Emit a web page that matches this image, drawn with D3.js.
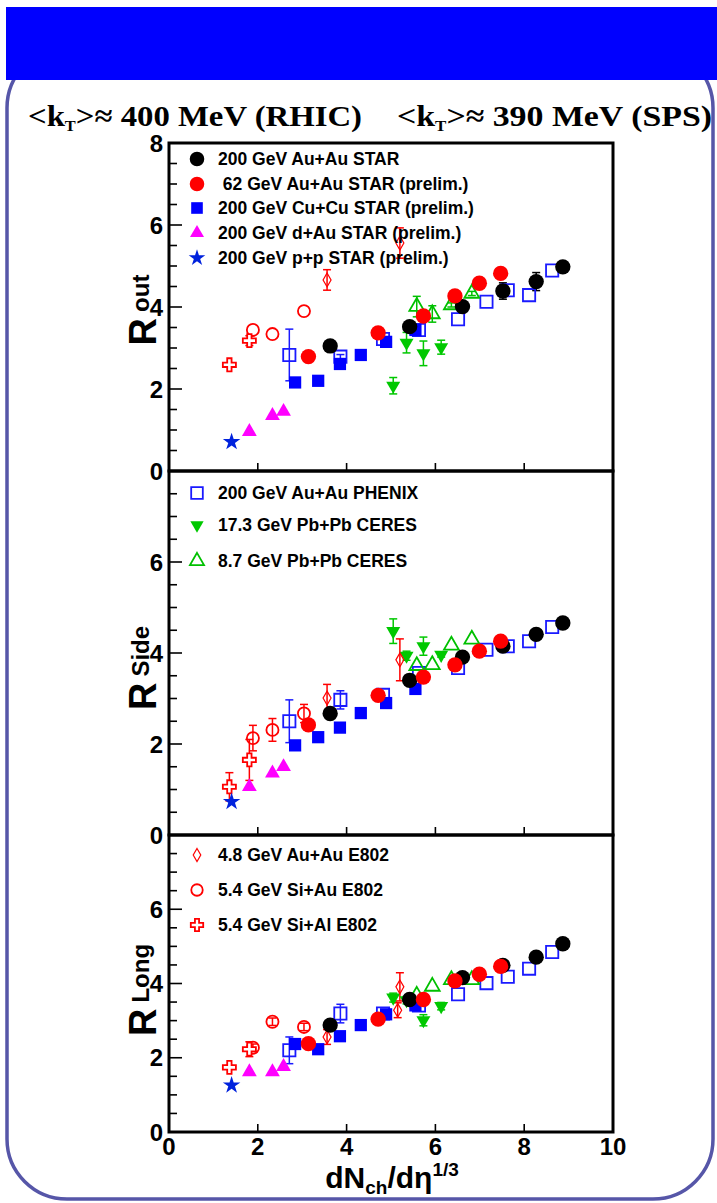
<!DOCTYPE html>
<meta charset="utf-8" />
<style>
  html,
  body {
    margin: 0;
    padding: 0;
    background: #fff;
  }
  #chart {
    width: 717px;
    height: 1203px;
  }
</style>
<script src="https://d3js.org/d3.v7.min.js"></script>

<div id="chart"></div>

<script>
  // ---- data ----
  // x is dNch/deta^(1/3), y values are radii in fm (out, side, long)
  const auStarX = [3.63, 5.42, 6.61, 7.52, 8.27, 8.87];
  const auStarOut = [3.05, 3.52, 4.01, 4.39, 4.62, 4.98];
  const auStarSide = [2.67, 3.4, 3.91, 4.15, 4.41, 4.66];
  const auStarLong = [2.88, 3.57, 4.16, 4.49, 4.71, 5.07];
  const auStarErrOut = [0.06, 0.06, 0.06, 0.2, 0.22, 0.06];

  const au62X = [3.14, 4.71, 5.73, 6.44, 6.99, 7.47];
  const au62Out = [2.79, 3.37, 3.78, 4.27, 4.58, 4.82];
  const au62Side = [2.42, 3.07, 3.47, 3.74, 4.04, 4.26];
  const au62Long = [2.38, 3.04, 3.57, 4.07, 4.25, 4.46];

  const cuX = [2.84, 3.36, 3.85, 4.32, 4.89, 5.55];
  const cuOut = [2.16, 2.2, 2.61, 2.83, 3.15, 3.44];
  const cuSide = [1.97, 2.15, 2.36, 2.68, 2.9, 3.21];
  const cuLong = [2.37, 2.23, 2.58, 2.88, 3.17, 3.41];

  const dauX = [1.81, 2.33, 2.58];
  const dauOut = [0.96, 1.35, 1.45];
  const dauSide = [1.06, 1.36, 1.5];
  const dauLong = [1.62, 1.62, 1.76];

  const ppX = [1.41];
  const ppOut = [0.71];
  const ppSide = [0.73];
  const ppLong = [1.26];

  const phenixX = [2.71, 3.86, 4.82, 5.63, 6.51, 7.15, 7.63, 8.11, 8.63];
  const phenixOut = [2.83, 2.79, 3.22, 3.44, 3.7, 4.13, 4.41, 4.29, 4.89];
  const phenixSide = [2.5, 2.97, 3.08, 3.56, 3.67, 4.07, 4.15, 4.26, 4.57];
  const phenixLong = [2.2, 3.19, 3.19, 3.41, 3.71, 4.01, 4.18, 4.4, 4.85];
  const phenixErrOut = [0.63, 0.05, 0, 0, 0, 0, 0, 0, 0];
  const phenixErrSide = [0.47, 0.2, 0, 0, 0, 0, 0, 0, 0];
  const phenixErrLong = [0.36, 0.25, 0, 0, 0, 0, 0, 0, 0];

  const ceres17X = [5.05, 5.35, 5.73, 6.13];
  const ceres17Out = [2.08, 3.13, 2.87, 3.02];
  const ceres17Side = [4.48, 3.94, 4.15, 3.96];
  const ceres17Long = [3.62, 3.55, 3.01, 3.39];
  const ceres17ErrOut = [0.2, 0.25, 0.3, 0.17];
  const ceres17ErrSide = [0.27, 0.1, 0.2, 0.05];
  const ceres17ErrLong = [0.12, 0.1, 0.15, 0.1];

  const ceres8X = [5.58, 5.93, 6.36, 6.82];
  const ceres8Out = [4.01, 3.83, 4.05, 4.33];
  const ceres8Side = [3.72, 3.74, 4.17, 4.3];
  const ceres8Long = [3.68, 3.92, 4.1, 4.1];
  const ceres8ErrOut = [0.25, 0.2, 0.05, 0.05];

  const e802AuX = [3.56, 5.15, 5.2];
  const e802AuOut = [4.66, null, 5.56];
  const e802AuSide = [3.01, null, 3.85];
  const e802AuLong = [2.56, 3.28, 3.91];
  const e802AuErrOut = [0.25, 0, 0.37];
  const e802AuErrSide = [0.3, 0, 0.46];
  const e802AuErrLong = [0.2, 0.2, 0.38];

  const siAuX = [1.89, 2.33, 3.04];
  const siAuOut = [3.44, 3.34, 3.9];
  const siAuSide = [2.13, 2.31, 2.67];
  const siAuLong = [2.27, 2.97, 2.83];
  const siAuErrSide = [0.28, 0.25, 0.2];
  const siAuErrLong = [0.1, 0.1, 0.1];

  const siAlX = [1.36, 1.81];
  const siAlOut = [2.59, 3.18];
  const siAlSide = [1.06, 1.65];
  const siAlLong = [1.74, 2.23];
  const siAlErrOut = [0, 0.12];
  const siAlErrSide = [0.31, 0.45];
  const siAlErrLong = [0.05, 0.2];

  const yTicks = [0, 2, 4, 6, 8];
  const xTicks = [0, 2, 4, 6, 8, 10];

  // ---- series styles, in drawing order ----
  const series = [
    { key: 'phenix', label: '200 GeV Au+Au PHENIX', x: phenixX, y: [phenixOut, phenixSide, phenixLong], err: [phenixErrOut, phenixErrSide, phenixErrLong], sym: 'square', size: 150, color: '#1a1aff', open: true },
    { key: 'ceres8', label: '8.7 GeV Pb+Pb CERES', x: ceres8X, y: [ceres8Out, ceres8Side, ceres8Long], err: [ceres8ErrOut, null, null], sym: 'triangle', size: 95, color: '#00c000', open: true },
    { key: 'ceres17', label: '17.3 GeV Pb+Pb CERES', x: ceres17X, y: [ceres17Out, ceres17Side, ceres17Long], err: [ceres17ErrOut, ceres17ErrSide, ceres17ErrLong], sym: 'triangle', size: 85, color: '#00c800', down: true },
    { key: 'e802au', label: '4.8 GeV Au+Au E802', x: e802AuX, y: [e802AuOut, e802AuSide, e802AuLong], err: [e802AuErrOut, e802AuErrSide, e802AuErrLong], sym: 'diamond', size: 55, color: '#ff0000', open: true, thin: true },
    { key: 'siau', label: '5.4 GeV Si+Au E802', x: siAuX, y: [siAuOut, siAuSide, siAuLong], err: [null, siAuErrSide, siAuErrLong], sym: 'circle', size: 115, color: '#ff0000', open: true },
    { key: 'sial', label: '5.4 GeV Si+Al E802', x: siAlX, y: [siAlOut, siAlSide, siAlLong], err: [siAlErrOut, siAlErrSide, siAlErrLong], sym: 'cross', size: 95, color: '#ff0000', open: true },
    { key: 'cu', label: '200 GeV Cu+Cu STAR (prelim.)', x: cuX, y: [cuOut, cuSide, cuLong], sym: 'square', size: 150, color: '#0000ff' },
    { key: 'dau', label: '200 GeV d+Au STAR (prelim.)', x: dauX, y: [dauOut, dauSide, dauLong], sym: 'triangle', size: 95, color: '#ff00ff' },
    { key: 'pp', label: '200 GeV p+p STAR (prelim.)', x: ppX, y: [ppOut, ppSide, ppLong], sym: 'star', size: 95, color: '#0022dd' },
    { key: 'austar', label: '200 GeV Au+Au STAR', x: auStarX, y: [auStarOut, auStarSide, auStarLong], err: [auStarErrOut, null, null], sym: 'circle', size: 185, color: '#000000' },
    { key: 'au62', label: ' 62 GeV Au+Au STAR (prelim.)', x: au62X, y: [au62Out, au62Side, au62Long], sym: 'circle', size: 185, color: '#ff0000' },
  ];
  const byKey = {};
  series.forEach((s) => (byKey[s.key] = s));

  const legends = [
    ['austar', 'au62', 'cu', 'dau', 'pp'],
    ['phenix', 'ceres17', 'ceres8'],
    ['e802au', 'siau', 'sial'],
  ];

  // ---- layout ----
  const W = 717;
  const H = 1203;
  const plotLeft = 169;
  const plotRight = 613;
  const panels = [
    { top: 143, bottom: 471, title: 'out', legendY: [159, 184, 208, 233, 258], labelY: 310 },
    { top: 471, bottom: 835, title: 'Side', legendY: [493, 525, 561], labelY: 668 },
    { top: 835, bottom: 1132, title: 'Long', legendY: [855, 890, 925], labelY: 990 },
  ];

  const symbols = {
    circle: d3.symbolCircle,
    square: d3.symbolSquare,
    triangle: d3.symbolTriangle,
    star: d3.symbolStar,
    diamond: d3.symbolDiamond,
    cross: d3.symbolCross,
  };

  const svg = d3
    .select('#chart')
    .append('svg')
    .attr('width', W)
    .attr('height', H)
    .style('font-family', "'Liberation Sans', Arial, sans-serif");

  // rounded frame + blue header bar
  svg
    .append('rect')
    .attr('x', 7)
    .attr('y', 48)
    .attr('width', 706)
    .attr('height', 1151)
    .attr('rx', 60)
    .attr('fill', '#fff')
    .attr('stroke', '#5656a8')
    .attr('stroke-width', 3.5);

  svg
    .append('rect')
    .attr('x', 6)
    .attr('y', 7)
    .attr('width', 711)
    .attr('height', 73)
    .attr('fill', '#0000ff');

  // heading: two <kT> statements, stretched to the widths seen in the picture
  function kt(x, len, rest) {
    const t = svg
      .append('text')
      .attr('x', x)
      .attr('y', 126)
      .attr('textLength', len)
      .attr('lengthAdjust', 'spacingAndGlyphs')
      .style('font-family', "'Liberation Serif', 'Times New Roman', serif")
      .style('font-weight', 'bold')
      .style('font-size', '30px');
    t.append('tspan').text('<k');
    t.append('tspan').attr('dy', 5).style('font-size', '15px').text('T');
    t.append('tspan').attr('dy', -5).text('>\u2248 ' + rest);
  }
  kt(28, 334, '400 MeV (RHIC)');
  kt(397, 315, '390 MeV (SPS)');

  const x = d3.scaleLinear().domain([0, 10]).range([plotLeft, plotRight]);

  function drawMarker(g, s, px, py) {
    const path = d3.symbol(symbols[s.sym], s.size)();
    const m = g
      .append('path')
      .attr('d', path)
      .attr(
        'transform',
        `translate(${px},${py})` + (s.down ? ' rotate(180)' : ''),
      );
    if (s.open) {
      m.attr('fill', s.sym === 'cross' ? '#fff' : 'none')
        .attr('stroke', s.color)
        .attr('stroke-width', s.thin ? 1.2 : 1.8);
    } else {
      m.attr('fill', s.color);
    }
  }

  panels.forEach((p, pi) => {
    const y = d3.scaleLinear().domain([0, 8]).range([p.bottom, p.top]);
    const g = svg.append('g');

    // error bars
    series.forEach((s) => {
      const errs = s.err ? s.err[pi] : null;
      if (!errs) return;
      s.x.forEach((xv, i) => {
        const yv = s.y[pi][i];
        const e = errs[i];
        if (yv == null || !e) return;
        const px = x(xv);
        const y1 = y(yv + e);
        const y2 = y(yv - e);
        g.append('line')
          .attr('x1', px)
          .attr('x2', px)
          .attr('y1', y1)
          .attr('y2', y2)
          .attr('stroke', s.color)
          .attr('stroke-width', 1.5);
        [y1, y2].forEach((yy) =>
          g
            .append('line')
            .attr('x1', px - 4)
            .attr('x2', px + 4)
            .attr('y1', yy)
            .attr('y2', yy)
            .attr('stroke', s.color)
            .attr('stroke-width', 1.5),
        );
      });
    });

    // markers
    series.forEach((s) => {
      s.x.forEach((xv, i) => {
        const yv = s.y[pi][i];
        if (yv == null) return;
        drawMarker(g, s, x(xv), y(yv));
      });
    });

    // y ticks (major + minor, inward)
    d3.range(0, 8.01, 0.5).forEach((v) => {
      const major = v % 2 === 0;
      svg
        .append('line')
        .attr('x1', plotLeft)
        .attr('x2', plotLeft + (major ? 13 : 8))
        .attr('y1', y(v))
        .attr('y2', y(v))
        .attr('stroke', '#000')
        .attr('stroke-width', 1.6);
    });
    yTicks.forEach((v) => {
      if (pi > 0 && v === 8) return;
      svg
        .append('text')
        .attr('x', 163)
        .attr('y', y(v))
        .attr('dy', '0.36em')
        .attr('text-anchor', 'end')
        .style('font-weight', 'bold')
        .style('font-size', '24px')
        .text(v);
    });

    // x ticks (upward)
    xTicks.forEach((v) => {
      svg
        .append('line')
        .attr('x1', x(v))
        .attr('x2', x(v))
        .attr('y1', p.bottom)
        .attr('y2', p.bottom - 8)
        .attr('stroke', '#000')
        .attr('stroke-width', 1.6);
    });

    // panel frame
    svg
      .append('rect')
      .attr('x', plotLeft)
      .attr('y', p.top)
      .attr('width', plotRight - plotLeft)
      .attr('height', p.bottom - p.top)
      .attr('fill', 'none')
      .attr('stroke', '#000')
      .attr('stroke-width', 3);

    // legend
    legends[pi].forEach((k, i) => {
      const s = byKey[k];
      const ly = p.legendY[i];
      const ls = Object.assign({}, s, { size: s.size * 0.9 });
      drawMarker(svg, ls, 197, ly);
      svg
        .append('text')
        .attr('x', 218)
        .attr('y', ly)
        .attr('dy', '0.36em')
        .attr('xml:space', 'preserve')
        .style('white-space', 'pre')
        .style('font-weight', 'bold')
        .style('font-size', '17.5px')
        .text(s.label);
    });

    // y axis title (R with its component written beside it)
    const t = svg
      .append('text')
      .attr('transform', `translate(156,${p.labelY}) rotate(-90)`)
      .attr('text-anchor', 'middle')
      .style('font-weight', 'bold')
      .style('font-size', '38px');
    t.append('tspan').text('R');
    t.append('tspan')
      .attr('dx', 6)
      .attr('dy', -7)
      .style('font-size', '24px')
      .text(p.title);
  });

  // x tick labels
  xTicks.forEach((v) => {
    svg
      .append('text')
      .attr('x', x(v))
      .attr('y', 1146)
      .attr('dy', '0.36em')
      .attr('text-anchor', 'middle')
      .style('font-weight', 'bold')
      .style('font-size', '24px')
      .text(v);
  });

  // x axis title
  const xt = svg
    .append('text')
    .attr('x', 392)
    .attr('y', 1188)
    .attr('text-anchor', 'middle')
    .style('font-weight', 'bold')
    .style('font-size', '30px');
  xt.append('tspan').text('dN');
  xt.append('tspan').attr('dy', 6).style('font-size', '19px').text('ch');
  xt.append('tspan').attr('dy', -6).text('/d\u03b7');
  xt.append('tspan').attr('dy', -12).style('font-size', '19px').text('1/3');
</script>
